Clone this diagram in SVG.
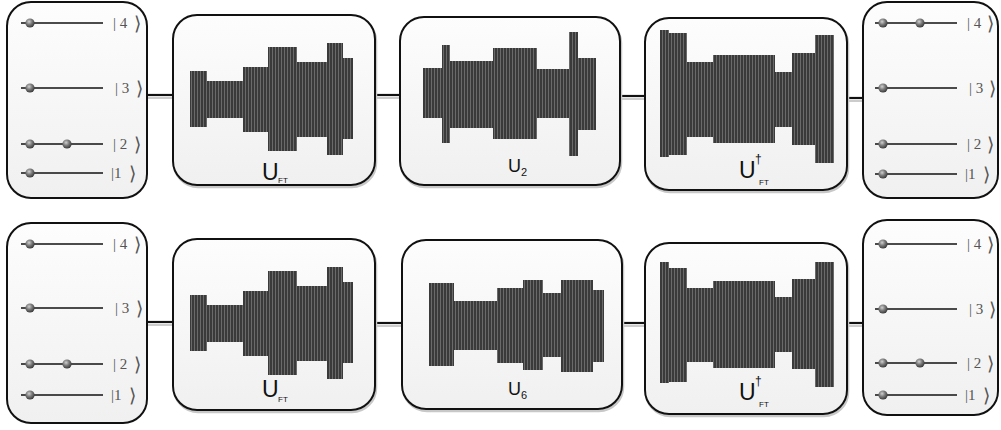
<svg xmlns="http://www.w3.org/2000/svg" width="1001" height="430" viewBox="0 0 1001 430">
<defs>
<pattern id="stripes" patternUnits="userSpaceOnUse" width="3" height="10">
<rect width="3" height="10" fill="#8a8a8a"/>
<rect width="2.4" height="10" fill="#3a3a3a"/>
</pattern>
<linearGradient id="boxfill" x1="0" y1="0" x2="0" y2="1">
<stop offset="0" stop-color="#fdfdfd"/>
<stop offset="1" stop-color="#f0f0f0"/>
</linearGradient>
<radialGradient id="ball" cx="0.4" cy="0.35" r="0.65">
<stop offset="0" stop-color="#d0d0d0"/>
<stop offset="0.5" stop-color="#7a7a7a"/>
<stop offset="1" stop-color="#3a3a3a"/>
</radialGradient>
</defs>
<style>
.box{fill:url(#boxfill);stroke:#111;stroke-width:2}
.sh{fill:none;stroke:#c8c8c8;stroke-width:2.5}
.wire{stroke:#111;stroke-width:1.3}
.conn{stroke:#111;stroke-width:2.2}
.connsh{stroke:#ccc;stroke-width:2}
.ball{fill:url(#ball)}
.ket{font-family:"Liberation Serif",serif;font-size:15px;fill:#555}
.br{font-family:"DejaVu Sans",sans-serif;font-weight:200;font-size:19px;fill:#555}
.pulse rect{fill:url(#stripes)}
.U{font-family:"Liberation Sans",Arial,sans-serif;fill:#111}
</style>

<g id="connectors">
<line class="connsh" x1="147" y1="98" x2="173" y2="98"/>
<line class="conn" x1="147" y1="95" x2="173" y2="95"/>
<line class="connsh" x1="375" y1="98" x2="400" y2="98"/>
<line class="conn" x1="375" y1="95" x2="400" y2="95"/>
<line class="connsh" x1="620" y1="99" x2="645" y2="99"/>
<line class="conn" x1="620" y1="96" x2="645" y2="96"/>
<line class="connsh" x1="847" y1="101" x2="863" y2="101"/>
<line class="conn" x1="847" y1="98" x2="863" y2="98"/>
<line class="connsh" x1="147" y1="325" x2="173" y2="325"/>
<line class="conn" x1="147" y1="322" x2="173" y2="322"/>
<line class="connsh" x1="375" y1="326" x2="402" y2="326"/>
<line class="conn" x1="375" y1="323" x2="402" y2="323"/>
<line class="connsh" x1="622" y1="326" x2="645" y2="326"/>
<line class="conn" x1="622" y1="323" x2="645" y2="323"/>
<line class="connsh" x1="847" y1="326" x2="863" y2="326"/>
<line class="conn" x1="847" y1="323" x2="863" y2="323"/>
</g>

<!-- Top row -->
<g id="state-top-left">
<rect class="box" x="7" y="2" width="140" height="196" rx="24"/>
<line class="wire" x1="21" y1="23" x2="103" y2="23"/>
<line class="wire" x1="21" y1="88" x2="103" y2="88"/>
<line class="wire" x1="21" y1="144" x2="103" y2="144"/>
<line class="wire" x1="21" y1="173" x2="103" y2="173"/>
<circle class="ball" cx="30" cy="23" r="4.6"/>
<circle class="ball" cx="30" cy="88" r="4.6"/>
<circle class="ball" cx="30" cy="144" r="4.6"/>
<circle class="ball" cx="67" cy="144" r="4.6"/>
<circle class="ball" cx="30" cy="173" r="4.6"/>
<text class="ket" x="113" y="28">| 4</text><text class="br" x="134" y="30">⟩</text>
<text class="ket" x="115" y="93">| 3</text><text class="br" x="136" y="95">⟩</text>
<text class="ket" x="113" y="149">| 2</text><text class="br" x="134" y="151">⟩</text>
<text class="ket" x="111" y="178">|1</text><text class="br" x="129" y="180">⟩</text>
</g>

<g id="gate-top-1">
<rect class="sh" x="174" y="17" width="202" height="170" rx="24"/>
<rect class="box" x="173" y="15" width="202" height="170" rx="24"/>
<g class="pulse">
<rect x="190" y="71" width="17" height="56"/>
<rect x="207" y="81" width="36" height="37"/>
<rect x="243" y="67" width="25" height="65"/>
<rect x="268" y="47" width="29" height="104"/>
<rect x="297" y="62" width="30" height="75"/>
<rect x="327" y="43" width="16" height="112"/>
<rect x="343" y="58" width="10" height="81"/>
</g>
<text class="U" x="262" y="180" font-size="23">U</text>
<text class="U" x="278" y="183" font-size="8">FT</text>
</g>

<g id="gate-top-2">
<rect class="sh" x="401" y="19" width="220" height="168" rx="24"/>
<rect class="box" x="400" y="17" width="220" height="168" rx="24"/>
<g class="pulse">
<rect x="423" y="68" width="19" height="50"/>
<rect x="442" y="45" width="8" height="98"/>
<rect x="450" y="61" width="43" height="67"/>
<rect x="493" y="48" width="44" height="91"/>
<rect x="537" y="69" width="32" height="49"/>
<rect x="569" y="32" width="9" height="124"/>
<rect x="578" y="58" width="18" height="72"/>
</g>
<text class="U" x="508" y="172" font-size="18">U</text>
<text class="U" x="521" y="176" font-size="11">2</text>
</g>

<g id="gate-top-3">
<rect class="sh" x="646" y="20" width="202" height="172" rx="24"/>
<rect class="box" x="645" y="18" width="202" height="172" rx="24"/>
<g class="pulse">
<rect x="660" y="30" width="9" height="127"/>
<rect x="669" y="33" width="18" height="122"/>
<rect x="687" y="62" width="26" height="75"/>
<rect x="713" y="55" width="62" height="88"/>
<rect x="775" y="72" width="17" height="55"/>
<rect x="792" y="53" width="23" height="92"/>
<rect x="815" y="35" width="19" height="128"/>
</g>
<text class="U" x="739" y="178" font-size="23">U</text>
<text class="U" x="755" y="163" font-size="12">†</text>
<text class="U" x="759" y="185" font-size="8">FT</text>
</g>

<g id="state-top-right">
<rect class="box" x="863" y="2" width="135" height="196" rx="24"/>
<line class="wire" x1="875" y1="23" x2="957" y2="23"/>
<line class="wire" x1="875" y1="88" x2="957" y2="88"/>
<line class="wire" x1="875" y1="144" x2="957" y2="144"/>
<line class="wire" x1="875" y1="174" x2="957" y2="174"/>
<circle class="ball" cx="883" cy="23" r="4.6"/>
<circle class="ball" cx="920" cy="23" r="4.6"/>
<circle class="ball" cx="883" cy="88" r="4.6"/>
<circle class="ball" cx="883" cy="144" r="4.6"/>
<circle class="ball" cx="883" cy="174" r="4.6"/>
<text class="ket" x="967" y="28">| 4</text><text class="br" x="987" y="30">⟩</text>
<text class="ket" x="969" y="93">| 3</text><text class="br" x="989" y="95">⟩</text>
<text class="ket" x="967" y="149">| 2</text><text class="br" x="987" y="151">⟩</text>
<text class="ket" x="965" y="179">|1</text><text class="br" x="983" y="181">⟩</text>
</g>

<!-- Bottom row -->
<g id="state-bottom-left">
<rect class="box" x="7" y="223" width="140" height="200" rx="24"/>
<line class="wire" x1="21" y1="244" x2="103" y2="244"/>
<line class="wire" x1="21" y1="308" x2="103" y2="308"/>
<line class="wire" x1="21" y1="364" x2="103" y2="364"/>
<line class="wire" x1="21" y1="395" x2="103" y2="395"/>
<circle class="ball" cx="30" cy="244" r="4.6"/>
<circle class="ball" cx="30" cy="308" r="4.6"/>
<circle class="ball" cx="30" cy="364" r="4.6"/>
<circle class="ball" cx="67" cy="364" r="4.6"/>
<circle class="ball" cx="30" cy="395" r="4.6"/>
<text class="ket" x="113" y="249">| 4</text><text class="br" x="134" y="251">⟩</text>
<text class="ket" x="115" y="313">| 3</text><text class="br" x="136" y="315">⟩</text>
<text class="ket" x="113" y="369">| 2</text><text class="br" x="134" y="371">⟩</text>
<text class="ket" x="111" y="400">|1</text><text class="br" x="129" y="402">⟩</text>
</g>

<g id="gate-bottom-1">
<rect class="sh" x="174" y="241" width="202" height="171" rx="24"/>
<rect class="box" x="173" y="239" width="202" height="171" rx="24"/>
<g class="pulse">
<rect x="190" y="295" width="17" height="56"/>
<rect x="207" y="305" width="36" height="37"/>
<rect x="243" y="291" width="25" height="65"/>
<rect x="268" y="271" width="29" height="104"/>
<rect x="297" y="286" width="30" height="75"/>
<rect x="327" y="267" width="16" height="112"/>
<rect x="343" y="282" width="10" height="81"/>
</g>
<text class="U" x="262" y="397" font-size="23">U</text>
<text class="U" x="278" y="402" font-size="8">FT</text>
</g>

<g id="gate-bottom-2">
<rect class="sh" x="403" y="242" width="220" height="169" rx="24"/>
<rect class="box" x="402" y="240" width="220" height="169" rx="24"/>
<g class="pulse">
<rect x="429" y="283" width="25" height="83"/>
<rect x="454" y="301" width="43" height="49"/>
<rect x="497" y="288" width="26" height="75"/>
<rect x="523" y="280" width="20" height="90"/>
<rect x="543" y="293" width="18" height="64"/>
<rect x="561" y="280" width="32" height="92"/>
<rect x="593" y="290" width="11" height="72"/>
</g>
<text class="U" x="508" y="395" font-size="18">U</text>
<text class="U" x="521" y="399" font-size="11">6</text>
</g>

<g id="gate-bottom-3">
<rect class="sh" x="646" y="245" width="202" height="171" rx="24"/>
<rect class="box" x="645" y="243" width="202" height="171" rx="24"/>
<g class="pulse">
<rect x="660" y="262" width="9" height="121"/>
<rect x="669" y="268" width="18" height="114"/>
<rect x="687" y="288" width="26" height="74"/>
<rect x="713" y="281" width="62" height="87"/>
<rect x="775" y="297" width="17" height="55"/>
<rect x="792" y="279" width="23" height="90"/>
<rect x="815" y="262" width="19" height="125"/>
</g>
<text class="U" x="739" y="400" font-size="23">U</text>
<text class="U" x="755" y="385" font-size="12">†</text>
<text class="U" x="759" y="407" font-size="8">FT</text>
</g>

<g id="state-bottom-right">
<rect class="box" x="863" y="220" width="135" height="195" rx="24"/>
<line class="wire" x1="875" y1="244" x2="957" y2="244"/>
<line class="wire" x1="875" y1="309" x2="957" y2="309"/>
<line class="wire" x1="875" y1="363" x2="957" y2="363"/>
<line class="wire" x1="875" y1="395" x2="957" y2="395"/>
<circle class="ball" cx="883" cy="244" r="4.6"/>
<circle class="ball" cx="883" cy="309" r="4.6"/>
<circle class="ball" cx="883" cy="363" r="4.6"/>
<circle class="ball" cx="920" cy="363" r="4.6"/>
<circle class="ball" cx="883" cy="395" r="4.6"/>
<text class="ket" x="967" y="249">| 4</text><text class="br" x="987" y="251">⟩</text>
<text class="ket" x="969" y="314">| 3</text><text class="br" x="989" y="316">⟩</text>
<text class="ket" x="967" y="368">| 2</text><text class="br" x="987" y="370">⟩</text>
<text class="ket" x="965" y="400">|1</text><text class="br" x="983" y="402">⟩</text>
</g>
</svg>
